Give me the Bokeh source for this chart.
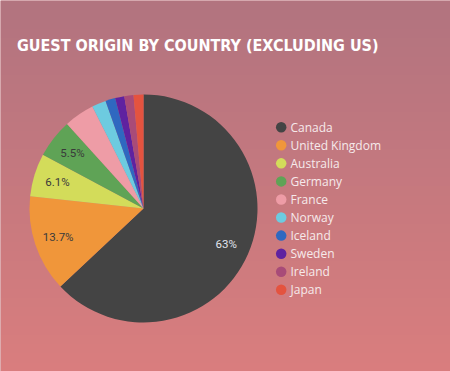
import numpy as np
from bokeh.plotting import figure
from bokeh.models import ColumnDataSource, Range1d
from bokeh.core.properties import value
from bokeh.embed import file_html
from bokeh.resources import INLINE

# ---- data ----
countries = ["Canada", "United Kingdom", "Australia", "Germany", "France",
             "Norway", "Iceland", "Sweden", "Ireland", "Japan"]
shares = [63.0, 13.7, 6.1, 5.5, 4.3, 2.0, 1.4, 1.3, 1.3, 1.4]
colors = ["#444444", "#f0963a", "#d3dc5a", "#5fa356", "#ee9ca6",
          "#6dcbe0", "#2f68c0", "#5f22a0", "#a84b78", "#e4533f"]
title_text = "GUEST ORIGIN BY COUNTRY (EXCLUDING US)"

W, H = 450, 371
p = figure(width=W, height=H, output_backend="svg", toolbar_location=None,
           x_range=Range1d(0, W), y_range=Range1d(0, H),
           x_axis_type=None, y_axis_type=None, min_border=0)
p.outline_line_color = None
p.grid.visible = False
p.background_fill_color = "#c47880"
p.border_fill_color = "#c47880"

# background gradient
top = np.array([178, 116, 128], dtype=float)
bot = np.array([218, 126, 126], dtype=float)
rows = np.arange(H)  # row 0 = bottom of figure
screen_y = H - rows - 0.5
t = (screen_y / H)[:, None]
rgb = (top * (1 - t) + bot * t).astype(np.uint32)
img = np.empty((H, 1), dtype=np.uint32)
img[:, 0] = (255 << 24) | (rgb[:, 2] << 16) | (rgb[:, 1] << 8) | rgb[:, 0]
p.image_rgba(image=[img], x=0, y=0, dw=W, dh=H)

# title
p.text(x=[16.5], y=[H - 45], text=[title_text], text_color="white",
       text_font=value("DejaVu Sans Condensed"), text_font_style="bold",
       text_font_size="16px", text_baseline="alphabetic", text_align="left")

# pie
cx, cy, R = 143, H - 208, 114
frac = np.array(shares) / sum(shares)
cum = np.concatenate([[0], np.cumsum(frac)])
start = np.pi / 2 - cum[:-1] * 2 * np.pi
end = np.pi / 2 - cum[1:] * 2 * np.pi
src = ColumnDataSource(dict(start=start, end=end, color=colors))
p.wedge(x=cx, y=cy, radius=R, start_angle="start", end_angle="end",
        direction="clock", fill_color="color", line_color=None, source=src)

# slice labels (only for larger slices)
mid = (start + end) / 2
lx, ly, lt, lc = [], [], [], []
for i, s in enumerate(shares):
    if s >= 5:
        lx.append(cx + 0.79 * R * np.cos(mid[i]))
        ly.append(cy + 0.79 * R * np.sin(mid[i]))
        lt.append(f"{s:g}%")
        lc.append("#e2e4ee" if i == 0 else "#3a3a3a")
p.text(x=lx, y=ly, text=lt, text_color=lc, text_font=value("Roboto"),
       text_font_size="11.5px", text_align="center", text_baseline="middle")

# legend
ys = [H - (126.7 + i * 18.07) for i in range(len(countries))]
p.scatter(x=[280.7] * len(countries), y=ys, size=10.5, fill_color=colors,
          line_color=None, marker="circle")
p.text(x=[290] * len(countries), y=ys, text=countries, text_color="#f6eaeb",
       text_font=value("Open Sans"), text_font_size="12px",
       text_align="left", text_baseline="middle")

open("out.html", "w").write(file_html(p, INLINE))
